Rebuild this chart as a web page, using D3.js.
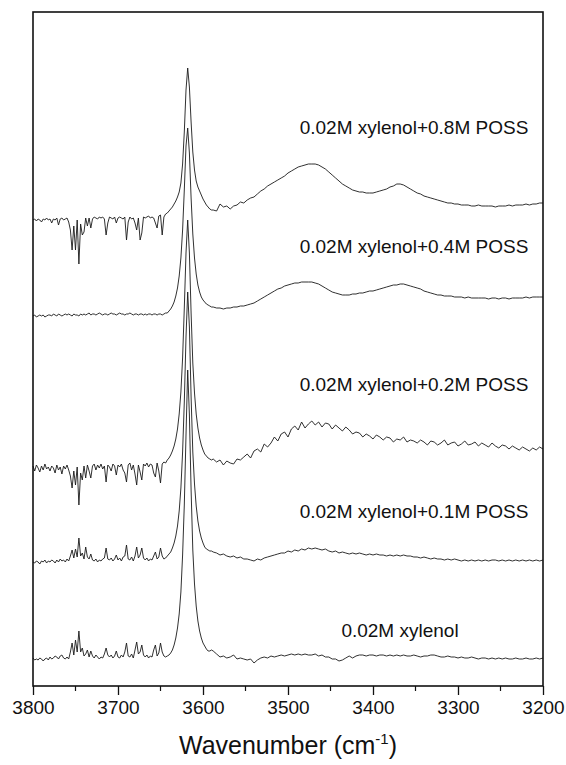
<!DOCTYPE html>
<html>
<head>
<meta charset="utf-8">
<script src="https://cdn.jsdelivr.net/npm/d3@7"></script>
<style>
  body { margin: 0; background: #fff; }
  svg { display: block; }
  text { font-family: "Liberation Sans", Arial, sans-serif; fill: #111; }
</style>
</head>
<body>
<script>
// wavenumber grid (cm-1), shared by all spectra
const wavenumbers = [
  3800,3798,3796,3794,3792,3790,3788,3786,3784,3782,
  3780,3778,3776,3774,3772,3770,3768,3766,3764,3762,
  3760,3758,3756,3754,3752,3750,3748,3746,3744,3742,
  3740,3738,3736,3734,3732,3730,3728,3726,3724,3722,
  3720,3718,3716,3714,3712,3710,3708,3706,3704,3702,
  3700,3698,3696,3694,3692,3690,3688,3686,3684,3682,
  3680,3678,3676,3674,3672,3670,3668,3666,3664,3662,
  3660,3658,3656,3654,3652,3650,3648,3646,3644,3642,
  3640,3638,3636,3634,3632,3630,3628,3626,3624,3622,
  3620,3618,3616,3614,3612,3610,3608,3606,3604,3602,
  3600,3598,3596,3594,3592,3590,
  3588,3584,3580,3576,3572,3568,3564,3560,3556,3552,
  3548,3544,3540,3536,3532,3528,3524,3520,3516,3512,
  3508,3504,3500,3496,3492,3488,3484,3480,3476,3472,
  3468,3464,3460,3456,3452,3448,3444,3440,3436,3432,
  3428,3424,3420,3416,3412,3408,3404,3400,3396,3392,
  3388,3384,3380,3376,3372,3368,3364,3360,3356,3352,
  3348,3344,3340,3336,3332,3328,3324,3320,3316,3312,
  3308,3304,3300,3296,3292,3288,3284,3280,3276,3272,
  3268,3264,3260,3256,3252,3248,3244,3240,3236,3232,
  3228,3224,3220,3216,3212,3208,3204,3200
];

// absorbance (a.u.) of each sample, before stacking
const absXylenol = [
  0.2,0,0.1,0,0.2,0.1,-0.1,0.1,0.2,0,
  0.3,0.1,0.2,0.4,0.3,0.1,0.4,0.5,0.2,0.1,
  0.3,0.1,0.8,1.7,0.5,2.0,0.8,2.9,0.8,1.2,
  0.4,0.6,1.0,0.3,0.9,0.4,0.2,0.5,0.3,0.1,
  0.3,0.2,0.6,1.2,0.5,0.3,0.5,0.2,0.4,0.9,
  0.3,0.2,0.5,0.3,0.8,1.7,0.4,0.3,0.6,0.2,
  1.0,1.8,0.6,0.8,1.5,0.5,0.3,0.5,0.2,0.4,
  0.3,1.0,1.5,0.4,0.7,1.7,0.8,0.4,0.3,0.4,
  0.5,0.7,1.0,1.5,2.2,3.2,4.6,6.8,10.5,15.5,
  22.5,29.0,24.5,17,11,7.6,5.4,3.9,2.9,2.2,
  1.7,1.4,1.1,0.9,0.9,1.0,
  0.9,0.6,0.3,0.4,0.2,0.3,0.5,0.1,0.2,0.1,
  0,0.1,-0.3,0,0.2,0.3,0.2,0.4,0.3,0.4,
  0.5,0.4,0.5,0.6,0.5,0.6,0.5,0.6,0.5,0.5,
  0.6,0.4,0.5,0.3,0.3,0.1,0.1,-0.1,0,0.2,
  0.4,0.2,0.4,0.5,0.5,0.4,0.5,0.5,0.4,0.5,
  0.5,0.4,0.5,0.4,0.5,0.4,0.5,0.4,0.4,0.5,
  0.4,0.3,0.4,0.4,0.5,0.5,0.4,0.3,0.3,0.4,
  0.3,0.3,0.2,0.3,0.2,0.2,0.3,0.2,0.1,0.2,
  0.2,0.1,0.2,0.1,0.2,0.1,0.2,0.1,0.1,0.2,
  0.1,0.1,0.2,0.1,0.1,0.2,0.1,0.2
];

const absPoss01 = [
  0,-0.1,0.1,0,-0.2,0.1,0,0.2,-0.1,0.1,
  0,0.2,0.1,-0.1,0.2,0,0.3,0.1,0.2,0,
  0.3,0.1,0.6,1.2,0.4,1.3,0.5,2.4,0.6,0.9,
  0.3,1.5,0.5,0.3,0.8,0.2,0.1,0.3,0.0,0.2,
  0.1,0.3,0.4,1.4,0.3,0.2,0.4,0.1,0.3,0.7,
  0.2,0.4,0.1,0.5,0.6,1.7,0.3,0.2,0.5,0.1,
  0.6,1.5,0.4,0.7,1.4,0.4,0.2,0.4,0.1,0.3,
  0.2,0.6,1.0,0.3,0.5,1.4,0.6,0.3,0.4,0.6,
  0.8,1.0,1.4,1.9,2.6,3.6,5.1,7.4,11,16,
  22.5,27,23.5,16.5,11,7.8,5.6,4.1,3.1,2.4,
  1.9,1.5,1.3,1.2,1.1,1.1,
  1.0,0.9,0.7,0.8,0.6,0.5,0.6,0.4,0.5,0.3,
  0.3,0.2,0.1,0.3,0.2,0.4,0.5,0.6,0.7,0.8,
  0.9,0.9,1.1,1.0,1.2,1.1,1.3,1.2,1.4,1.3,
  1.4,1.3,1.2,1.3,1.1,1.0,1.1,0.9,1.0,0.9,
  0.8,0.9,0.8,0.9,0.8,0.7,0.8,0.7,0.8,0.7,
  0.7,0.6,0.7,0.6,0.7,0.6,0.7,0.6,0.6,0.5,
  0.5,0.4,0.5,0.4,0.3,0.4,0.3,0.3,0.2,0.3,
  0.2,0.3,0.2,0.1,0.2,0.1,0.2,0.1,0.2,0.1,
  0.2,0.1,0.2,0.2,0.1,0.2,0.1,0.2,0.1,0.2,
  0.1,0.2,0.1,0.2,0.1,0.2,0.1,0.2
];

const absPoss02 = [
  0.2,-0.3,0.3,0,-0.4,0.2,-0.2,0.4,-0.1,0.1,
  -0.3,0.2,0,-0.5,0.3,-0.2,0.1,-0.6,0.2,-0.1,
  0.3,-0.2,-0.8,-2.0,-0.3,-1.7,0.1,-3.7,-0.5,-1.2,
  0.2,-1.0,0.3,-0.3,-1.0,0.2,0.4,-0.2,0.3,0,
  0.4,-0.1,0.2,-1.4,0.3,0.1,-0.3,0.4,0.2,-0.7,
  0.3,0.1,0.4,-0.2,-0.5,-1.4,0.3,0.5,-0.2,0.3,
  -0.6,-1.7,0.3,-0.4,-1.2,0.4,0.2,0.5,0.1,0.4,
  0.3,-0.5,-0.9,0.5,-0.3,-1.5,0.4,0.6,0.5,0.8,
  1.0,1.3,1.7,2.2,2.9,3.9,5.4,7.6,11,16,
  21.5,24.8,21.5,15.5,10.5,7.5,5.4,4.0,3.0,2.3,
  1.8,1.4,1.2,1.0,0.9,0.8,
  0.9,0.6,0.8,0.3,0.7,0.5,0.4,0.9,0.8,1.1,
  1.4,1.0,1.7,1.9,1.6,2.4,2.1,2.5,3.1,2.7,
  3.4,3.6,3.1,3.9,4.2,3.8,4.6,4.0,4.4,4.7,
  4.3,4.6,4.1,4.5,4.4,3.9,4.3,4.0,3.7,4.1,
  3.8,3.4,3.6,3.5,3.1,3.4,3.2,2.9,3.3,3.1,
  2.8,3.1,3.0,2.6,2.9,2.8,3.1,2.6,2.8,2.7,
  2.5,2.8,2.6,2.3,2.7,2.6,2.3,2.5,2.8,2.3,
  2.5,2.6,2.2,2.4,2.7,2.3,2.4,2.6,2.2,2.5,
  2.3,2.1,2.5,2.2,2.0,2.3,2.2,1.9,2.2,2.0,
  1.8,2.1,1.9,1.7,2.0,1.8,2.1,1.9
];

const absPoss04 = [
  0,0.1,-0.1,0,0.1,0,0.1,-0.1,0,0.1,
  0.1,0,0.2,0.1,0,0.2,0.1,0,0.1,0.2,
  0.1,0.2,0.1,0,0.2,0.1,0.1,0,0.2,0.1,
  0.2,0.1,0.2,0.3,0.1,0.2,0.2,0.1,0.2,0.3,
  0.2,0.1,0.2,0.2,0.1,0.2,0.3,0.2,0.2,0.1,
  0.2,0.3,0.2,0.2,0.1,0.2,0.2,0.3,0.2,0.1,
  0.2,0.2,0.1,0.2,0.2,0.1,0.2,0.1,0.2,0.2,
  0.1,0.2,0.2,0.1,0.2,0.2,0.1,0.2,0.3,0.3,
  0.5,0.7,1.0,1.4,2.0,2.8,4.0,5.8,8.6,12.6,
  17.0,18.8,16.3,11.8,8.2,5.8,4.2,3.1,2.4,1.9,
  1.6,1.4,1.2,1.1,1.0,0.9,
  0.9,0.8,0.8,0.7,0.8,0.8,0.9,0.9,1.0,1.0,
  1.1,1.2,1.3,1.5,1.7,1.9,2.1,2.3,2.5,2.7,
  2.8,3.0,3.1,3.2,3.3,3.3,3.4,3.4,3.4,3.4,
  3.3,3.2,3.0,2.8,2.6,2.4,2.3,2.2,2.1,2.1,
  2.1,2.2,2.2,2.3,2.3,2.4,2.5,2.5,2.6,2.7,
  2.8,2.9,3.0,3.1,3.1,3.2,3.2,3.1,3.0,2.9,
  2.8,2.7,2.5,2.4,2.3,2.2,2.1,2.1,2.0,2.0,
  2.0,1.9,1.9,1.9,1.8,1.9,1.8,1.8,1.8,1.8,
  1.8,1.7,1.8,1.8,1.7,1.8,1.8,1.7,1.8,1.8,
  1.8,1.8,1.9,1.8,1.9,1.9,1.9,1.9
];

const absPoss08 = [
  0,0.1,-0.1,0.1,0,-0.2,0.1,0,0.2,0,
  0.1,-0.3,0.1,0,0.2,-0.5,0.1,0.2,0,0.1,
  0.2,-0.2,-1.0,-3.0,-0.6,-3.0,0,-4.4,-0.4,-1.5,
  -1.2,0.2,-0.6,0.2,-0.8,0.1,0.3,0.2,0.1,0.3,
  0.2,0.3,0.1,-1.5,-0.3,0.3,0.2,0.1,0.3,-0.3,
  0.2,0.3,0.2,0.1,0.3,-2.0,-0.2,0.3,0.1,0.2,
  -0.3,-1.0,0.2,-2.0,-1.3,0.3,0.2,0.3,0.4,0.2,
  0.3,0.2,-0.3,-0.8,0.4,0.5,-1.5,0.3,0.6,0.7,
  0.9,1.1,1.3,1.6,1.9,2.3,2.8,3.7,5.6,8.8,
  13.0,15.2,13.3,9.8,6.8,5.0,3.9,3.3,2.9,2.5,
  2.1,1.8,1.5,1.3,1.1,1.0,
  1.0,0.9,1.6,1.3,1.4,1.1,1.4,1.5,1.8,1.7,
  2.0,2.2,2.3,2.6,2.9,3.1,3.4,3.6,3.8,4.0,
  4.2,4.4,4.7,4.9,5.1,5.3,5.4,5.5,5.6,5.6,
  5.6,5.5,5.3,5.1,4.8,4.5,4.2,3.9,3.6,3.4,
  3.2,3.0,2.9,2.8,2.8,2.7,2.7,2.7,2.8,2.9,
  3.0,3.1,3.3,3.4,3.6,3.6,3.5,3.3,3.1,2.9,
  2.7,2.6,2.4,2.3,2.2,2.1,2.0,1.9,1.8,1.7,
  1.7,1.6,1.6,1.5,1.5,1.5,1.4,1.4,1.5,1.4,
  1.4,1.4,1.4,1.3,1.4,1.4,1.4,1.5,1.4,1.5,
  1.5,1.5,1.6,1.5,1.6,1.6,1.7,1.7
];

// series, bottom to top, with stacking offsets (a.u.)
const seriesNames = [
  '0.02M xylenol',
  '0.02M xylenol+0.1M POSS',
  '0.02M xylenol+0.2M POSS',
  '0.02M xylenol+0.4M POSS',
  '0.02M xylenol+0.8M POSS'
];
const seriesValues = [absXylenol, absPoss01, absPoss02, absPoss04, absPoss08];
const stackOffsets = [2.6, 12.4, 21.8, 37.0, 46.6];

const majorTicks = [3800, 3700, 3600, 3500, 3400, 3300, 3200];
const minorTicks = [3750, 3650, 3550, 3450, 3350, 3250];

/* layout */
const width = 566, height = 765;
const margin = { top: 12, right: 23, bottom: 79, left: 33 };
const innerW = width - margin.left - margin.right,
  innerH = height - margin.top - margin.bottom;

// label placement (px inside plot)
const labelX = [367, 381, 381, 381, 381];
const labelY = [625, 506, 379, 241, 122];

const svg = d3.select('body').append('svg')
  .attr('width', width)
  .attr('height', height);

const g = svg.append('g')
  .attr('transform', `translate(${margin.left},${margin.top})`);

const x = d3.scaleLinear()
  .domain([3800, 3200])
  .range([0, innerW]);

const y = d3.scaleLinear()
  .domain([0, 67.4])
  .range([innerH, 0]);

// bottom axis, major + minor ticks
const xAxis = d3.axisBottom(x)
  .tickValues(majorTicks)
  .tickSize(9)
  .tickPadding(6)
  .tickFormat(d3.format('d'));

const axisG = g.append('g')
  .attr('transform', `translate(0,${innerH})`)
  .call(xAxis);
axisG.select('.domain').remove();
axisG.selectAll('.tick line').attr('stroke', '#111').attr('stroke-width', 1.3);
axisG.selectAll('.tick text')
  .attr('font-size', 19)
  .style('font-family', '"Liberation Sans", Arial, sans-serif')
  .attr('fill', '#111');

g.append('g')
  .attr('transform', `translate(0,${innerH})`)
  .selectAll('line')
  .data(minorTicks)
  .enter().append('line')
  .attr('x1', d => x(d)).attr('x2', d => x(d))
  .attr('y1', 0).attr('y2', 5)
  .attr('stroke', '#111')
  .attr('stroke-width', 1.2);

// spectra
const line = d3.line()
  .x(d => x(d[0]))
  .y(d => y(d[1]));

seriesValues.forEach((vals, i) => {
  const pts = wavenumbers.map((wn, j) => [wn, vals[j] + stackOffsets[i]])
    .filter(p => !isNaN(p[1]));
  g.append('path')
    .datum(pts)
    .attr('fill', 'none')
    .attr('stroke', '#1a1a1a')
    .attr('stroke-width', 0.9)
    .attr('stroke-linejoin', 'round')
    .attr('d', line);
});

// sample labels
g.selectAll('.series-label')
  .data(seriesNames)
  .enter().append('text')
  .attr('class', 'series-label')
  .attr('x', (d, i) => labelX[i])
  .attr('y', (d, i) => labelY[i])
  .attr('text-anchor', 'middle')
  .attr('font-size', 19)
  .text(d => d);

// frame
g.append('rect')
  .attr('width', innerW)
  .attr('height', innerH)
  .attr('fill', 'none')
  .attr('stroke', '#111')
  .attr('stroke-width', 1.6);

// axis title
const title = svg.append('text')
  .attr('x', margin.left + innerW / 2)
  .attr('y', 754)
  .attr('text-anchor', 'middle')
  .attr('font-size', 25);
title.append('tspan').text('Wavenumber (cm');
title.append('tspan').attr('dy', -10).attr('font-size', 15).text('-1');
title.append('tspan').attr('dy', 10).text(')');
</script>
</body>
</html>
